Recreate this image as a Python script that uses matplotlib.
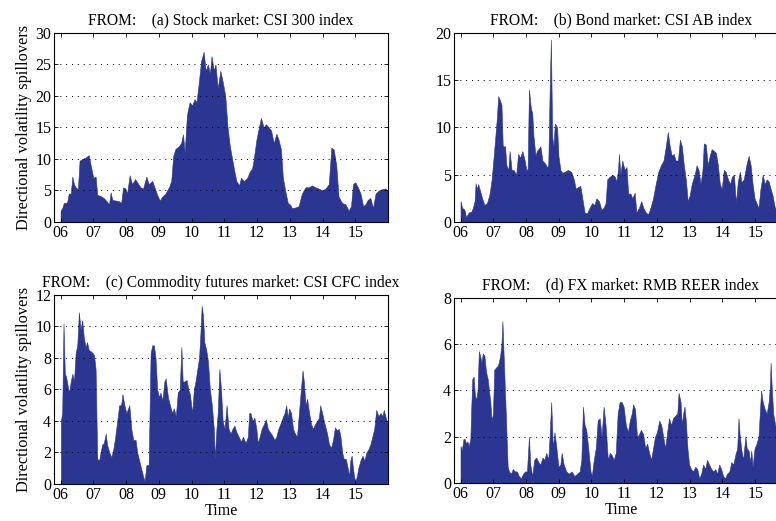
import numpy as np
import matplotlib
matplotlib.use("Agg")
import matplotlib.pyplot as plt

plt.rcParams["font.family"] = ["Liberation Serif", "DejaVu Serif"]

# (a) Stock market: CSI 300 index
t_a = [2006.00, 2006.05, 2006.10, 2006.20, 2006.25, 2006.31, 2006.36, 2006.41, 2006.46, 2006.53,
       2006.58, 2006.66, 2006.76, 2006.86, 2006.92, 2007.00, 2007.07, 2007.12, 2007.22, 2007.32,
       2007.42, 2007.48, 2007.53, 2007.58, 2007.68, 2007.78, 2007.85, 2007.91, 2007.98, 2008.03,
       2008.11, 2008.18, 2008.28, 2008.35, 2008.44, 2008.52, 2008.62, 2008.69, 2008.80, 2008.87,
       2008.95, 2009.03, 2009.10, 2009.20, 2009.31, 2009.38, 2009.44, 2009.51, 2009.61, 2009.68,
       2009.74, 2009.79, 2009.86, 2009.94, 2010.02, 2010.09, 2010.15, 2010.22, 2010.29, 2010.37,
       2010.43, 2010.50, 2010.56, 2010.61, 2010.68, 2010.73, 2010.80, 2010.88, 2010.96, 2011.03,
       2011.10, 2011.17, 2011.24, 2011.31, 2011.37, 2011.45, 2011.51, 2011.60, 2011.70, 2011.78,
       2011.85, 2011.90, 2011.98, 2012.05, 2012.12, 2012.20, 2012.27, 2012.36, 2012.43, 2012.51,
       2012.59, 2012.66, 2012.73, 2012.79, 2012.86, 2012.94, 2013.00, 2013.07, 2013.17, 2013.27,
       2013.37, 2013.48, 2013.58, 2013.68, 2013.78, 2013.88, 2013.99, 2014.09, 2014.19, 2014.27,
       2014.34, 2014.42, 2014.49, 2014.60, 2014.70, 2014.80, 2014.87, 2014.93, 2015.00, 2015.08,
       2015.16, 2015.24, 2015.31, 2015.38, 2015.46, 2015.54, 2015.62, 2015.72, 2015.82, 2015.92,
       2015.99]
v_a = [1.8, 2.2, 3.0, 3.1, 4.5, 4.5, 7.2, 6.0, 5.5, 5.2,
       9.7, 10.0, 10.2, 10.6, 9.0, 7.0, 7.2, 4.3, 4.1, 3.8,
       3.2, 2.8, 4.7, 3.5, 3.4, 3.3, 3.0, 5.5, 5.3, 4.5,
       7.4, 6.0, 6.8, 6.2, 5.5, 5.3, 7.2, 6.0, 6.5, 5.5,
       4.3, 3.4, 4.0, 4.5, 5.5, 6.5, 10.5, 11.6, 12.0, 12.5,
       13.9, 11.0, 17.0, 19.0, 18.5, 19.5, 19.0, 22.0, 25.5, 27.0,
       24.0, 25.0, 23.5, 26.3, 24.0, 25.0, 21.2, 24.0, 22.0, 20.0,
       15.0, 12.0, 10.0, 8.0, 6.5, 5.8, 7.0, 6.5, 7.0, 8.0,
       8.5, 10.0, 13.0, 14.8, 16.5, 15.0, 15.5, 15.0, 14.5, 12.5,
       14.0, 13.0, 11.5, 7.0, 5.0, 3.0, 2.8, 2.2, 2.3, 2.5,
       4.5, 5.5, 5.5, 5.8, 5.5, 5.3, 5.0, 5.3, 6.0, 11.8,
       11.5, 9.0, 4.0, 3.0, 2.8, 1.8, 2.5, 6.0, 6.3, 5.5,
       4.5, 2.5, 2.8, 3.5, 3.8, 2.2, 4.5, 5.0, 5.2, 5.3,
       5.0]

# (b) Bond market: CSI AB index
t_b = [2006.00, 2006.05, 2006.12, 2006.17, 2006.25, 2006.33, 2006.38, 2006.43, 2006.46, 2006.50,
       2006.54, 2006.58, 2006.66, 2006.73, 2006.81, 2006.89, 2006.95, 2007.01, 2007.07, 2007.11,
       2007.15, 2007.19, 2007.25, 2007.29, 2007.36, 2007.40, 2007.46, 2007.50, 2007.56, 2007.62,
       2007.70, 2007.76, 2007.82, 2007.89, 2007.96, 2008.01, 2008.05, 2008.09, 2008.15, 2008.19,
       2008.23, 2008.29, 2008.33, 2008.40, 2008.44, 2008.50, 2008.58, 2008.64, 2008.68, 2008.72,
       2008.76, 2008.80, 2008.84, 2008.88, 2008.95, 2008.99, 2009.05, 2009.11, 2009.18, 2009.28,
       2009.38, 2009.46, 2009.52, 2009.59, 2009.66, 2009.72, 2009.79, 2009.86, 2009.94, 2010.02,
       2010.09, 2010.15, 2010.23, 2010.30, 2010.37, 2010.43, 2010.48, 2010.56, 2010.64, 2010.71,
       2010.76, 2010.81, 2010.84, 2010.88, 2010.94, 2011.01, 2011.07, 2011.12, 2011.19, 2011.25,
       2011.32, 2011.37, 2011.45, 2011.52, 2011.58, 2011.66, 2011.73, 2011.80, 2011.88, 2011.96,
       2012.04, 2012.12, 2012.20, 2012.27, 2012.33, 2012.39, 2012.45, 2012.51, 2012.57, 2012.64,
       2012.70, 2012.76, 2012.82, 2012.88, 2012.94, 2013.00, 2013.06, 2013.15, 2013.21, 2013.27,
       2013.33, 2013.39, 2013.43, 2013.49, 2013.55, 2013.61, 2013.67, 2013.74, 2013.80, 2013.86,
       2013.92, 2013.98, 2014.04, 2014.10, 2014.17, 2014.23, 2014.29, 2014.35, 2014.41, 2014.47,
       2014.53, 2014.58, 2014.65, 2014.74, 2014.80, 2014.86, 2014.92, 2014.98, 2015.04, 2015.10,
       2015.16, 2015.23, 2015.29, 2015.35, 2015.41, 2015.47, 2015.53, 2015.60, 2015.75, 2015.99]
v_b = [2.2, 1.5, 1.3, 0.5, 1.0, 1.1, 1.5, 2.2, 4.1, 3.5,
       4.0, 3.5, 2.5, 1.8, 2.0, 3.0, 4.5, 6.8, 9.3, 11.0,
       13.3, 13.0, 12.4, 8.0, 8.0, 6.0, 5.5, 7.5, 5.5, 5.5,
       5.0, 7.2, 6.8, 7.5, 6.5, 5.5, 5.6, 14.0, 12.0, 11.5,
       9.0, 7.0, 7.5, 7.8, 8.0, 6.5, 6.2, 5.8, 6.0, 13.5,
       19.3, 9.0, 8.0, 10.4, 10.0, 7.0, 5.5, 5.2, 5.3, 5.5,
       5.3, 4.5, 3.5, 3.7, 3.8, 2.5, 1.0, 0.9, 1.5, 2.0,
       1.8, 2.5, 2.2, 1.3, 1.5, 2.0, 4.5, 4.8, 5.0, 4.8,
       4.3, 5.5, 7.2, 5.0, 6.5, 5.5, 5.8, 3.0, 3.0, 2.5,
       3.1, 1.0, 1.5, 2.2, 1.5, 1.0, 0.8, 1.5, 2.5, 4.0,
       5.3, 6.0, 6.5, 8.0, 9.5, 8.0, 7.0, 7.2, 6.5, 6.5,
       8.7, 8.0, 6.0, 4.5, 2.2, 2.8, 4.0, 5.0, 6.0, 5.5,
       4.0, 5.5, 8.3, 8.2, 6.0, 7.0, 7.7, 7.5, 7.3, 6.0,
       4.0, 3.5, 5.5, 5.3, 4.5, 4.0, 4.8, 5.0, 2.0, 4.3,
       5.3, 4.2, 4.5, 6.2, 7.0, 6.0, 4.0, 2.5, 2.0, 1.5,
       3.5, 5.0, 4.0, 4.5, 4.3, 3.5, 2.8, 1.5, 1.5, 1.5]

# (c) Commodity futures market: CSI CFC index
t_c = [2006.01, 2006.05, 2006.09, 2006.13, 2006.17, 2006.22, 2006.26, 2006.31, 2006.36, 2006.41,
       2006.46, 2006.51, 2006.56, 2006.61, 2006.66, 2006.71, 2006.76, 2006.81, 2006.86, 2006.94,
       2007.02, 2007.07, 2007.12, 2007.18, 2007.22, 2007.27, 2007.32, 2007.38, 2007.42, 2007.49,
       2007.55, 2007.61, 2007.67, 2007.73, 2007.79, 2007.85, 2007.89, 2007.95, 2008.01, 2008.10,
       2008.16, 2008.22, 2008.29, 2008.34, 2008.40, 2008.46, 2008.52, 2008.57, 2008.62, 2008.69,
       2008.75, 2008.80, 2008.85, 2008.90, 2008.95, 2009.01, 2009.05, 2009.11, 2009.17, 2009.21,
       2009.28, 2009.34, 2009.41, 2009.46, 2009.52, 2009.58, 2009.64, 2009.69, 2009.73, 2009.78,
       2009.85, 2009.90, 2009.95, 2010.02, 2010.07, 2010.12, 2010.17, 2010.23, 2010.27, 2010.31,
       2010.35, 2010.39, 2010.45, 2010.50, 2010.56, 2010.62, 2010.68, 2010.71, 2010.76, 2010.80,
       2010.85, 2010.90, 2010.95, 2011.01, 2011.07, 2011.13, 2011.19, 2011.25, 2011.31, 2011.37,
       2011.44, 2011.51, 2011.57, 2011.65, 2011.72, 2011.76, 2011.80, 2011.86, 2011.92, 2011.98,
       2012.02, 2012.08, 2012.14, 2012.21, 2012.27, 2012.33, 2012.39, 2012.46, 2012.53, 2012.59,
       2012.65, 2012.71, 2012.78, 2012.84, 2012.89, 2012.94, 2012.98, 2013.04, 2013.10, 2013.16,
       2013.22, 2013.28, 2013.32, 2013.39, 2013.43, 2013.48, 2013.53, 2013.59, 2013.65, 2013.71,
       2013.77, 2013.83, 2013.89, 2013.93, 2013.99, 2014.04, 2014.09, 2014.14, 2014.20, 2014.26,
       2014.32, 2014.38, 2014.44, 2014.50, 2014.55, 2014.60, 2014.65, 2014.71, 2014.77, 2014.81,
       2014.85, 2014.89, 2014.93, 2014.97, 2015.01, 2015.05, 2015.09, 2015.16, 2015.22, 2015.28,
       2015.34, 2015.40, 2015.46, 2015.52, 2015.58, 2015.64, 2015.71, 2015.77, 2015.83, 2015.87,
       2015.92, 2015.99]
v_c = [4.0, 4.5, 10.2, 7.0, 6.8, 6.2, 5.8, 6.5, 7.0, 6.5,
       8.3, 8.8, 10.9, 9.8, 10.4, 9.3, 8.7, 9.0, 8.5, 8.4,
       8.2, 7.3, 1.6, 1.5, 2.0, 2.5, 2.6, 3.2, 2.5, 2.0,
       1.7, 2.2, 3.0, 4.0, 5.0, 5.0, 5.7, 5.0, 4.5, 5.0,
       3.5, 2.8, 2.8, 2.0, 1.5, 1.0, 0.5, 0.2, 1.2, 1.2,
       8.3, 8.8, 8.8, 8.0, 6.0, 5.5, 5.8, 5.3, 6.5, 6.7,
       5.5, 5.0, 4.5, 4.8, 4.3, 5.8, 6.0, 8.7, 6.5, 6.5,
       6.6, 6.0, 5.7, 4.5, 6.0, 6.5, 7.2, 8.0, 9.5, 11.3,
       10.7, 9.0, 8.5, 7.8, 6.0, 5.0, 3.5, 1.6, 3.5, 4.5,
       7.3, 6.0, 4.0, 3.5, 5.0, 3.5, 3.2, 3.5, 3.7, 3.3,
       3.0, 2.7, 3.0, 2.6, 3.0, 4.5, 4.5, 4.0, 4.2, 3.5,
       2.6, 3.0, 3.5, 3.8, 4.1, 3.5, 3.3, 3.1, 2.8, 3.0,
       3.5, 3.8, 4.2, 4.5, 5.0, 4.2, 4.8, 4.5, 3.5, 3.2,
       3.0, 4.5, 5.5, 7.2, 6.5, 5.0, 5.4, 4.5, 3.8, 3.5,
       3.8, 4.0, 4.2, 5.0, 4.5, 4.0, 3.6, 3.2, 2.5, 2.3,
       2.8, 3.6, 3.4, 3.5, 3.0, 2.0, 1.6, 1.6, 1.0, 0.5,
       1.5, 1.8, 1.0, 0.4, 0.2, 0.5, 1.0, 1.5, 1.8, 1.5,
       2.0, 2.2, 2.5, 3.0, 3.5, 4.7, 4.3, 4.5, 4.3, 4.7,
       4.3, 3.8]

# (d) FX market: RMB REER index
t_d = [2006.00, 2006.04, 2006.09, 2006.13, 2006.17, 2006.21, 2006.25, 2006.30, 2006.33, 2006.36,
       2006.40, 2006.44, 2006.48, 2006.52, 2006.56, 2006.60, 2006.64, 2006.68, 2006.73, 2006.78,
       2006.83, 2006.87, 2006.91, 2006.95, 2006.99, 2007.03, 2007.09, 2007.15, 2007.21, 2007.25,
       2007.28, 2007.33, 2007.37, 2007.40, 2007.44, 2007.48, 2007.54, 2007.60, 2007.66, 2007.72,
       2007.78, 2007.85, 2007.91, 2007.97, 2008.03, 2008.09, 2008.13, 2008.19, 2008.25, 2008.31,
       2008.38, 2008.44, 2008.50, 2008.56, 2008.62, 2008.68, 2008.72, 2008.77, 2008.82, 2008.87,
       2008.93, 2008.99, 2009.05, 2009.09, 2009.15, 2009.23, 2009.31, 2009.39, 2009.48, 2009.56,
       2009.64, 2009.69, 2009.74, 2009.79, 2009.84, 2009.90, 2009.97, 2010.01, 2010.07, 2010.13,
       2010.19, 2010.25, 2010.31, 2010.37, 2010.43, 2010.50, 2010.56, 2010.62, 2010.68, 2010.74,
       2010.80, 2010.86, 2010.92, 2010.98, 2011.05, 2011.11, 2011.17, 2011.23, 2011.27, 2011.33,
       2011.39, 2011.45, 2011.51, 2011.58, 2011.64, 2011.70, 2011.76, 2011.82, 2011.88, 2011.94,
       2012.00, 2012.07, 2012.13, 2012.19, 2012.25, 2012.31, 2012.37, 2012.43, 2012.49, 2012.55,
       2012.62, 2012.66, 2012.72, 2012.76, 2012.80, 2012.84, 2012.88, 2012.93, 2012.98, 2013.04,
       2013.10, 2013.17, 2013.23, 2013.29, 2013.35, 2013.41, 2013.47, 2013.53, 2013.59, 2013.66,
       2013.72, 2013.78, 2013.84, 2013.90, 2013.96, 2014.02, 2014.08, 2014.14, 2014.21, 2014.27,
       2014.33, 2014.39, 2014.45, 2014.49, 2014.53, 2014.58, 2014.63, 2014.70, 2014.74, 2014.80,
       2014.84, 2014.88, 2014.92, 2014.98, 2015.04, 2015.10, 2015.14, 2015.18, 2015.23, 2015.29,
       2015.35, 2015.41, 2015.45, 2015.47, 2015.51, 2015.55, 2015.61, 2015.75, 2015.99]
v_d = [1.6, 1.4, 1.9, 1.9, 1.7, 1.8, 1.6, 1.9, 3.3, 4.5,
       4.6, 3.8, 3.6, 4.0, 5.7, 5.5, 5.2, 5.6, 5.5, 4.8,
       4.5, 4.0, 3.5, 2.7, 3.0, 4.9, 5.0, 5.1, 5.5, 6.0,
       7.0, 5.0, 3.5, 2.3, 0.7, 0.5, 0.4, 0.6, 0.5, 0.5,
       0.3, 0.2, 0.4, 0.5, 0.5, 2.0, 0.8, 0.3, 1.0, 1.1,
       0.9, 0.8, 1.1, 1.0, 1.3, 1.0, 2.0, 3.5, 1.5, 2.2,
       1.5, 0.7, 0.8, 1.3, 0.8, 0.5, 0.4, 0.5, 0.3, 0.4,
       0.5, 1.0, 3.3, 2.5, 2.3, 1.5, 0.5, 0.3, 1.0, 1.5,
       2.7, 2.8, 2.0, 3.3, 2.5, 1.0, 1.3, 1.2, 1.0, 1.3,
       3.0, 3.5, 3.5, 3.3, 2.5, 2.2, 2.7, 3.0, 3.4, 3.2,
       2.0, 2.1, 2.3, 2.1, 1.5, 1.7, 1.3, 1.0, 1.5, 2.0,
       2.2, 2.7, 2.5, 2.0, 1.5, 2.2, 2.8, 2.5, 2.8, 2.9,
       3.0, 3.9, 3.5, 2.5, 3.0, 3.3, 2.7, 1.5, 0.8, 0.6,
       0.5, 0.7, 0.6, 0.2, 0.4, 0.8, 0.6, 1.0, 0.8, 0.6,
       0.5, 0.6, 0.4, 0.8, 0.6, 0.3, 0.2, 0.4, 0.5, 0.9,
       0.8, 1.2, 1.5, 2.8, 2.0, 1.4, 1.0, 2.0, 1.5, 1.4,
       0.9, 1.4, 0.7, 1.5, 1.7, 2.0, 3.0, 4.0, 3.5, 3.2,
       3.0, 3.5, 4.2, 5.2, 4.0, 3.0, 2.5, 2.5, 2.5]

titles = ["FROM:    (a) Stock market: CSI 300 index",
          "FROM:    (b) Bond market: CSI AB index",
          "FROM:    (c) Commodity futures market: CSI CFC index",
          "FROM:    (d) FX market: RMB REER index"]
ylims = [30, 20, 12, 8]
ysteps = [5, 5, 2, 2]
years = list(range(2006, 2016))
year_labels = ["%02d" % (y % 100) for y in years]

series = [(t_a, v_a), (t_b, v_b), (t_c, v_c), (t_d, v_d)]

# axes boxes in figure fractions (right column runs past the figure edge)
boxes = [[0.0696, 0.574, 0.4304, 0.363],
         [0.585, 0.574, 0.4304, 0.363],
         [0.0696, 0.071, 0.4304, 0.363],
         [0.585, 0.073, 0.4304, 0.355]]

color = "#2b3692"

fig = plt.figure(figsize=(7.76, 5.21), dpi=100)

for i in range(4):
    ax = fig.add_axes(boxes[i])
    t, v = series[i]
    ax.fill_between(t, v, 0, color=color, linewidth=0.4, edgecolor=color)
    ax.set_xlim(2005.8, 2016.0)
    ax.set_ylim(0, ylims[i])
    ax.set_yticks(np.arange(0, ylims[i] + 0.1, ysteps[i]))
    ax.set_xticks(years)
    ax.set_xticklabels(year_labels)
    ax.tick_params(direction="in", top=True, right=True, length=3,
                   labelsize=11.5, width=0.6, pad=2)
    ax.yaxis.grid(True, linestyle=(0, (1, 5)), color="k", linewidth=0.7)
    ax.set_axisbelow(False)
    for s in ax.spines.values():
        s.set_linewidth(0.8)
    ax.set_title(titles[i], fontsize=11.2, pad=6)
    if i % 2 == 0:
        ax.set_ylabel("Directional volatility spillovers", fontsize=11.8, labelpad=2)
    if i >= 2:
        ax.set_xlabel("Time", fontsize=11.5, labelpad=0)

fig.savefig("out.png", dpi=100)
